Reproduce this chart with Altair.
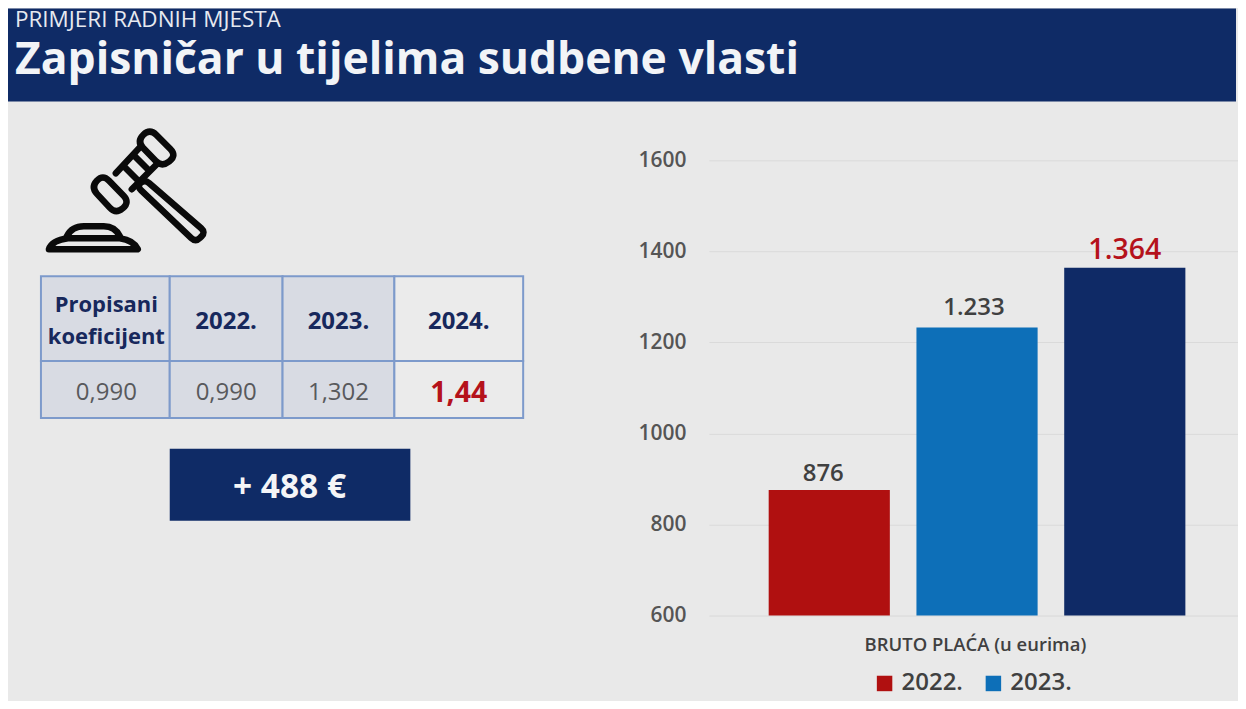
import altair as alt
import pandas as pd

FONT = "Open Sans"
NAVY = "#0f2b66"
BG = "#e9e9e9"
TOTAL_W = 1230

# ---- chart values
years = ["2022.", "2023.", "2024."]
gross_pay = [876, 1233, 1364]
pay_labels = ["876", "1.233", "1.364"]
group_name = ["BRUTO PLAĆA (u eurima)"] * 3
tick_values = [600, 800, 1000, 1200, 1400, 1600]
bar_colors = ["#b01010", "#0d6fb8", "#0f2a66"]

# ---- table text
table_head = [["Propisani", "koeficijent"], ["2022."], ["2023."], ["2024."]]
table_vals = ["0,990", "0,990", "1,302", "1,44"]
subtitle = "PRIMJERI RADNIH MJESTA"
title = "Zapisničar u tijelima sudbene vlasti"
delta = "+ 488 €"

one = pd.DataFrame({"a": [0]})
OX, OY = 8, 101   # page position of the lower left panel


def text(t, x, y, size, color, weight="normal", align="center", font=FONT, oy=OY, baseline="middle"):
    return alt.Chart(one).mark_text(
        text=t, font=font, fontSize=size, color=color, fontWeight=weight,
        align=align, baseline=baseline,
    ).encode(x=alt.value(x - OX), y=alt.value(y - oy))


def box(x0, x1, y0, y1, fill, stroke=None, sw=0):
    kw = dict(fill=fill)
    if stroke:
        kw.update(stroke=stroke, strokeWidth=sw)
    return alt.Chart(one).mark_rect(**kw).encode(
        x=alt.value(x0 - OX), x2=alt.value(x1 - OX),
        y=alt.value(y0 - OY), y2=alt.value(y1 - OY),
    )


# ---- header band
header = alt.layer(
    alt.Chart(one).mark_rect(fill=NAVY).encode(
        x=alt.value(0), x2=alt.value(TOTAL_W), y=alt.value(0), y2=alt.value(93)
    ),
    text(subtitle, 15, 8, 22.5, "#e6e9f0", align="left", oy=8, baseline="top"),
    text(title, 15, 61, 44.5, "#f2f4f7", weight=700, align="left", oy=8),
).properties(width=TOTAL_W, height=93)

# ---- gavel icon, drawn as custom symbol outlines
CX, CY = 125, 185


def poly(points, r=0.0, closed=True):
    pts = [(x - CX, y - CY) for x, y in points]
    if r == 0:
        d = "M%g,%g" % pts[0] + "".join(" L%g,%g" % p for p in pts[1:])
        return d + (" Z" if closed else "")
    out = []
    n = len(pts)
    for i in range(n):
        p0, p1, p2 = pts[i - 1], pts[i], pts[(i + 1) % n]

        def toward(a, b):
            dx, dy = b[0] - a[0], b[1] - a[1]
            L = (dx * dx + dy * dy) ** 0.5
            k = min(r, L / 2) / L
            return a[0] + dx * k, a[1] + dy * k
        a, b = toward(p1, p0), toward(p1, p2)
        out.append(("M" if i == 0 else "L") + "%.1f,%.1f" % a)
        out.append("Q%.1f,%.1f %.1f,%.1f" % (p1[0], p1[1], b[0], b[1]))
    return " ".join(out) + " Z"


def curve(points_text):
    """Path given in page pixels: every x,y pair is moved to the icon's centre."""
    out = []
    for tok in points_text.split():
        cmd = tok[0] if tok[0].isalpha() else ""
        xs, ys = tok.lstrip("MLQ").split(",") if "," in tok else (None, None)
        if xs is None:
            out.append(tok)
        else:
            out.append("%s%g,%g" % (cmd, float(xs) - CX, float(ys) - CY))
    return " ".join(out)


gavel_paths = [
    poly([(150, 128), (177, 155), (162, 167), (137, 141)], 9),
    poly([(103, 174), (130, 202), (116, 214), (91, 187)], 9),
    poly([(140, 147), (116, 173)], closed=False),
    poly([(157, 164), (132, 189)], closed=False),
    poly([(134, 155), (148, 169)], closed=False),
    poly([(124, 166), (138, 180)], closed=False),
    poly([(145, 179), (206, 232), (196, 242), (137, 186)], 6),
    curve("M67,236 Q72,226 84,226 L104,226 Q115,226 120,236"),
    curve("M49,249 Q52,240 68,238 L120,238 Q134,240 138,249 Z"),
]
gavel = [
    alt.Chart(one).mark_point(
        shape=p, size=4, filled=False, stroke="#0a0a0a", strokeWidth=6.5,
        opacity=1, strokeJoin="round", strokeCap="round",
    ).encode(x=alt.value(CX - OX), y=alt.value(CY - OY))
    for p in gavel_paths
]

# ---- coefficient table
col_edges = [41, 170, 283, 395, 524]
row_edges = [276, 361, 418]
cells = []
for i in range(4):
    fill = "#d8dbe3" if i < 3 else "#ebebeb"
    for r in range(2):
        cells.append(box(col_edges[i], col_edges[i + 1], row_edges[r], row_edges[r + 1],
                         fill, "#7d9acb", 2))
for i in range(4):
    cx = (col_edges[i] + col_edges[i + 1]) / 2 + (1 if i == 0 else 0)
    lines = table_head[i]
    if len(lines) == 2:
        cells.append(text(lines[0], cx, 305, 22, "#17285c", 700))
        cells.append(text(lines[1], cx, 337, 22, "#17285c", 700))
    else:
        cells.append(text(lines[0], cx, 322, 24, "#17285c", 700))
    if i == 3:
        cells.append(text(table_vals[i], cx, 393, 28.5, "#b5121b", 700))
    else:
        cells.append(text(table_vals[i], cx, 393, 24, "#58595c"))

delta_box = [
    box(170, 411, 449, 521, NAVY),
    text(delta, 290, 488, 33.5, "#f4f5f7", 700),
]

left = alt.layer(*gavel, *cells, *delta_box).properties(width=630, height=600)

# ---- bar chart
df = pd.DataFrame({
    "group": group_name,
    "year": years,
    "pay": gross_pay,
    "label": pay_labels,
})
x = alt.X("group:N", title=None, scale=alt.Scale(paddingInner=0, paddingOuter=0),
          axis=alt.Axis(domain=False, ticks=False, labelAngle=0, labelFont=FONT,
                        labelFontSize=18.5, labelFontWeight=600, labelColor="#404040",
                        labelPadding=20, labelLimit=400, labelOffset=2))
xo = alt.XOffset("year:N", sort=years,
                 scale=alt.Scale(paddingInner=0.18, paddingOuter=0.3805, align=0.532))
y = alt.Y("pay:Q", title=None,
          scale=alt.Scale(domain=[600, 1729.4], nice=False, zero=False),
          axis=alt.Axis(values=tick_values, domain=False, ticks=False, grid=True,
                        gridColor="#dadada", gridWidth=1, labelFont=FONT, labelFontSize=21,
                        labelFontWeight=600, labelColor="#555555", labelPadding=23,
                        format="d"))

bars = alt.Chart(df).mark_bar(clip=True).encode(
    x=x, xOffset=xo, y=y,
    color=alt.Color(
        "year:N", sort=years,
        scale=alt.Scale(domain=years, range=bar_colors),
        legend=alt.Legend(
            values=years[:2], title=None, orient="none", legendX=866, legendY=664,
            direction="horizontal", columns=2, symbolType="square", symbolSize=240,
            symbolStrokeWidth=0, labelFont=FONT, labelFontSize=24, labelFontWeight=600,
            labelColor="#404040", columnPadding=18, labelOffset=5,
        ),
    ),
)

# value labels, one layer per bar
label_styles = {
    "2022.": dict(fontSize=24, color="#404040", dx=-6, dy=-4),
    "2023.": dict(fontSize=24, color="#404040", dx=-3, dy=-7),
    "2024.": dict(fontSize=28.5, color="#b5121b", dx=0, dy=-3),
}
value_labels = [
    alt.Chart(df).transform_filter(alt.datum.year == yr).mark_text(
        font=FONT, fontWeight=600, baseline="bottom", **st
    ).encode(x=x, xOffset=xo, y=y, text="label:N")
    for yr, st in label_styles.items()
]

right = alt.layer(bars, *value_labels).properties(width=530, height=515)

chart = alt.vconcat(
    header,
    alt.hconcat(left, right, spacing=0),
    spacing=0,
).properties(
    padding=0, background=BG,
).configure_view(stroke=None).configure_concat(spacing=0)

chart.save("out.html", embed_options={"renderer": "svg", "actions": False})
